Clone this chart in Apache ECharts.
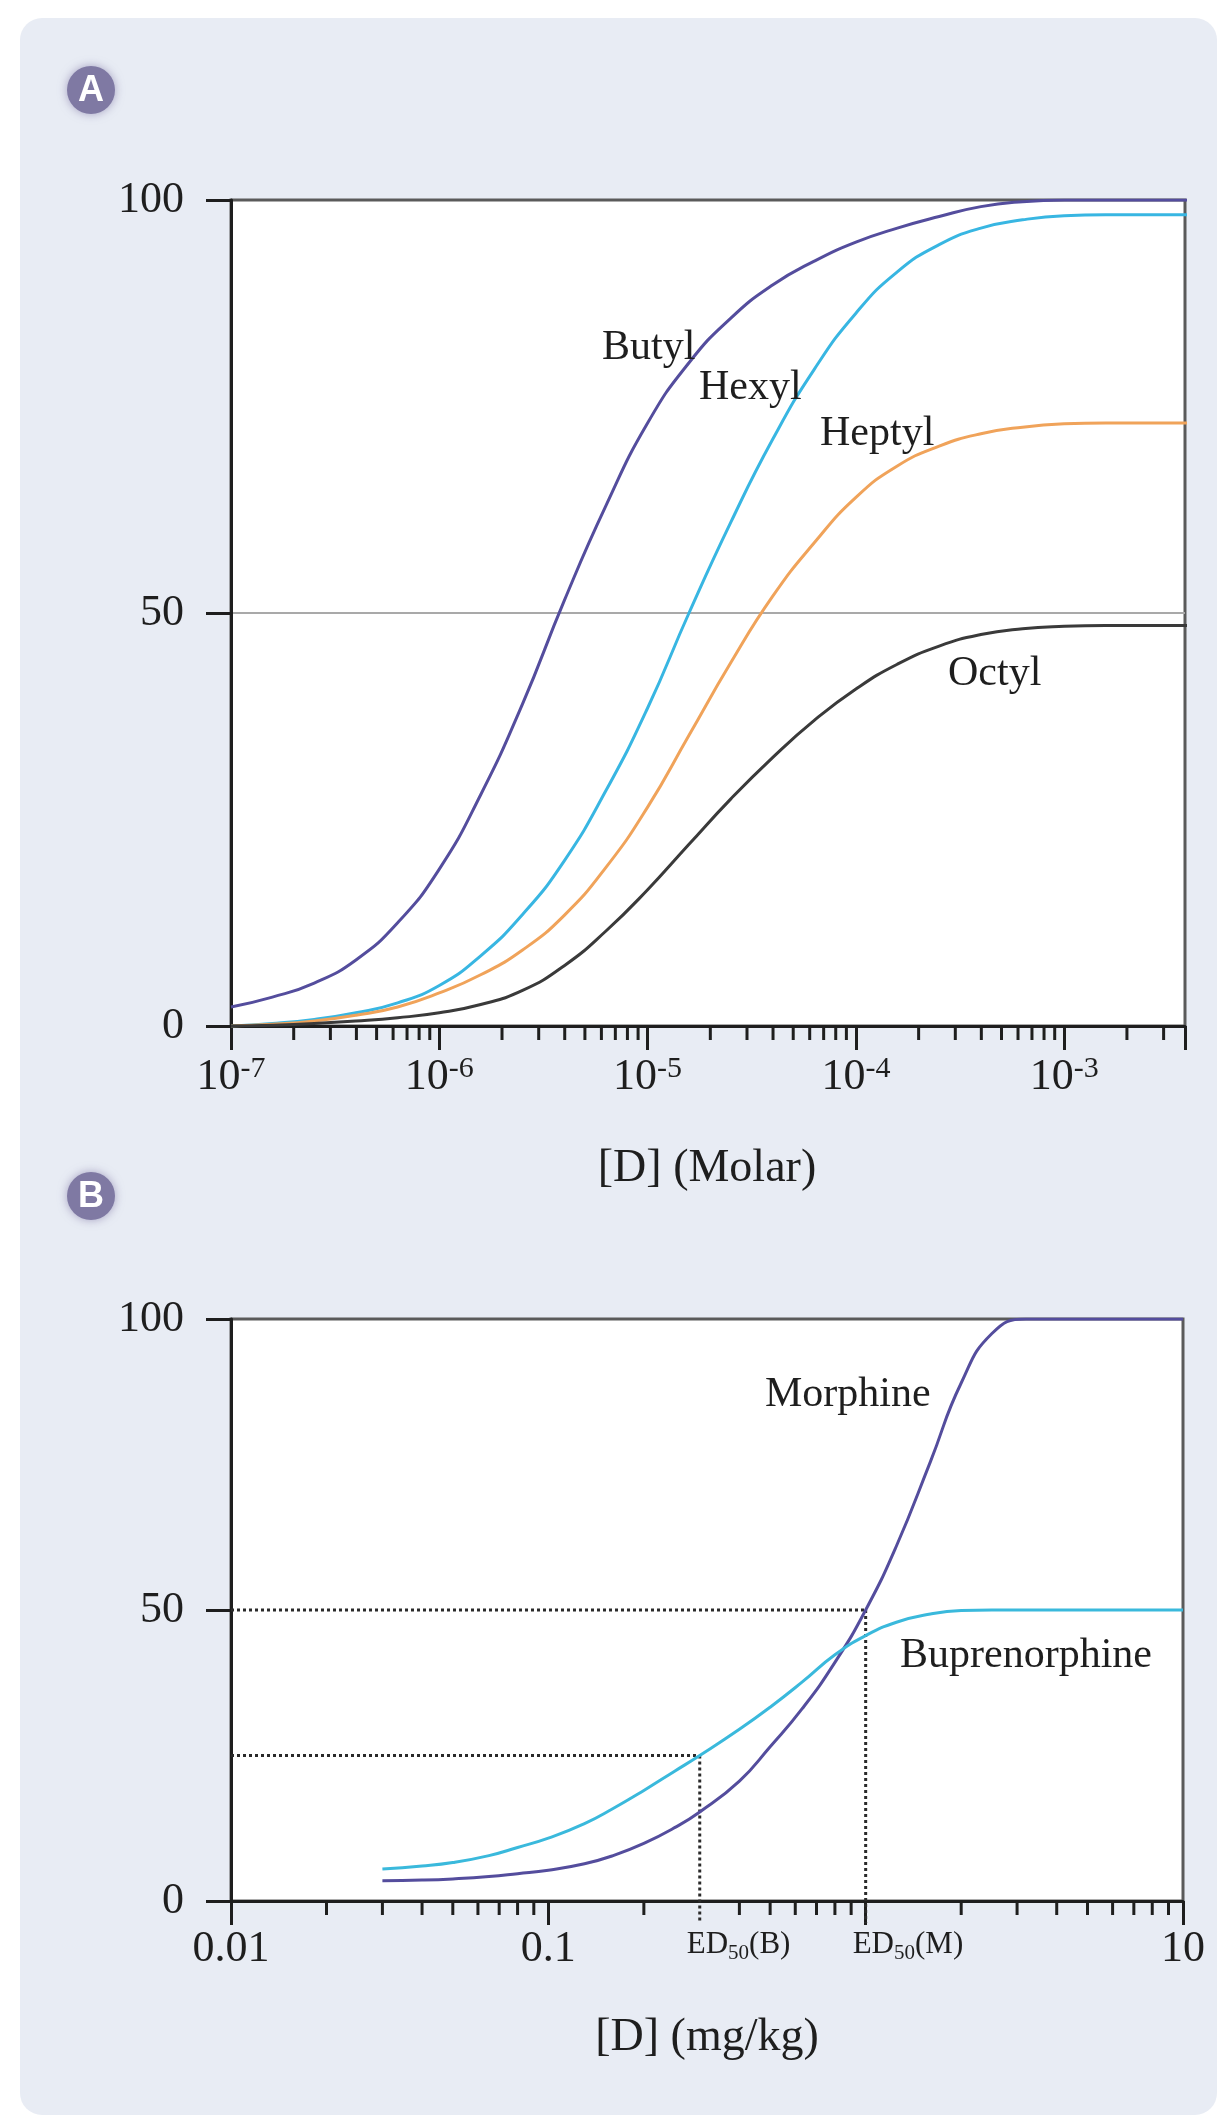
<!DOCTYPE html>
<html>
<head>
    <meta charset="UTF-8">
    <title>Dose-response curves</title>
    <script type="text/javascript" src="https://cdn.jsdelivr.net/npm/echarts@6/dist/echarts.min.js"></script>
</head>
<body style="margin: 0; overflow: hidden; background: #fff;">
<div id="chart" style="width: 1227px; height: 2125px;"></div>
<script type="text/javascript">
    // panel A: concentration (M) and response (%)
    var molar = [1e-7, 1.58e-7, 2.51e-7, 3.98e-7, 6.31e-7, 1e-6, 1.58e-6, 2.51e-6, 3.98e-6, 6.31e-6,
        1e-5, 1.58e-5, 2.51e-5, 3.98e-5, 6.31e-5, 1e-4, 1.58e-4, 2.51e-4, 3.98e-4, 6.31e-4,
        1e-3, 1.58e-3, 2.51e-3, 3.98e-3];
    var butyl = [2.3, 3.5, 5.2, 8, 12.5, 19, 28, 39, 51.5, 63, 73, 80.3, 85.7, 89.7, 92.6, 94.9, 96.6, 98, 99.2, 99.8, 100, 100, 100, 100];
    var hexyl = [0, 0.3, 0.8, 1.6, 2.8, 4.9, 8.5, 13.5, 20, 28.5, 38.5, 50, 61, 71, 79.5, 86.3, 91.3, 94.6, 96.6, 97.6, 98.1, 98.2, 98.2, 98.2];
    var heptyl = [0, 0.2, 0.6, 1.3, 2.3, 4, 6.2, 9.2, 13.4, 19.2, 26.5, 35.2, 44, 52, 58.5, 64, 67.8, 70.2, 71.7, 72.5, 72.9, 73, 73, 73];
    var octyl = [0, 0.1, 0.3, 0.6, 1.0, 1.6, 2.6, 4.3, 7.3, 11.5, 16.5, 22, 27.5, 32.5, 37, 40.8, 43.8, 46, 47.4, 48.1, 48.4, 48.5, 48.5, 48.5];

    // panel B: dose (mg/kg) and response (%)
    var dose = [0.03, 0.04, 0.05, 0.065, 0.08, 0.1, 0.13, 0.16, 0.2, 0.25, 0.3, 0.4, 0.5, 0.63, 0.8, 1, 1.25, 1.6, 2, 2.5, 3.2, 4, 6, 10];
    var morphine = [3.5, 3.6, 3.8, 4.2, 4.7, 5.3, 6.4, 7.8, 9.9, 12.6, 15.3, 20.6, 26.5, 33, 41, 50, 61, 75.5, 89, 97.5, 100, 100, 100, 100];
    var buprenorphine = [5.5, 6.0, 6.6, 7.8, 9.2, 10.8, 13.3, 15.9, 19, 22.3, 25, 29.5, 33.3, 37.6, 42.3, 45.6, 47.9, 49.3, 49.9, 50, 50, 50, 50, 50];
    // ED50 guides: [dose, response, label]
    var ed50 = [[0.3, 25, 'B'], [1, 50, 'M']];

    var molarMin = 1e-7, molarMax = 3.8e-3;
    var doseMin = 0.01, doseMax = 10;

    var serif = '"Liberation Serif", "Times New Roman", serif';
    var ink = '#1e1e1e';
    var purple = '#544d9d', cyan = '#38b6e2', orange = '#f0a35a', grey = '#3a3a3a';

    function zip(xs, ys) {
        return xs.map(function (x, i) { return [x, ys[i]]; });
    }

    // 2..9 x 10^n minor ticks inside an axis range
    function minorTicks(lo, hi, skip) {
        var out = [];
        for (var e = Math.floor(Math.log10(lo)); e < Math.log10(hi); e++) {
            for (var m = 2; m <= 9; m++) {
                var v = m * Math.pow(10, e);
                if (v > lo && v < hi && skip.indexOf(+v.toPrecision(6)) < 0) out.push([v, 0]);
            }
        }
        return out;
    }

    function tickItem(params, api) {
        var p = api.coord([api.value(0), 0]);
        return {
            type: 'line',
            shape: {x1: p[0], y1: p[1], x2: p[0], y2: p[1] + 14},
            style: {stroke: ink, lineWidth: 3}
        };
    }

    function yAxis(gridIndex) {
        return {
            type: 'value', gridIndex: gridIndex, min: 0, max: 100, interval: 50,
            axisLine: {show: true, lineStyle: {color: ink, width: 3}},
            axisTick: {show: true, length: 25, lineStyle: {color: ink, width: 3}},
            axisLabel: {margin: 47, fontFamily: serif, fontSize: 44, color: ink},
            splitLine: {
                show: gridIndex === 0,
                lineStyle: {color: ['rgba(0,0,0,0)', '#a9a9a9', 'rgba(0,0,0,0)'], width: 2}
            }
        };
    }

    function curve(name, xs, ys, color, axis) {
        return {
            name: name, type: 'line', xAxisIndex: axis, yAxisIndex: axis,
            data: zip(xs, ys), smooth: 0.5, showSymbol: false, silent: true, z: 5,
            lineStyle: {color: color, width: 3}
        };
    }

    var chart = echarts.init(document.getElementById('chart'));

    var labelStyle = function (text, x, y) {
        return {
            type: 'text', x: x, y: y, z: 20,
            style: {text: text, font: '42px ' + serif, fill: ink, align: 'left', verticalAlign: 'middle'}
        };
    };

    var badge = function (letter, cx, cy) {
        return {
            type: 'group', z: 10,
            children: [
                {type: 'circle', shape: {cx: cx, cy: cy, r: 24},
                    style: {fill: '#7f79a3', shadowBlur: 10, shadowColor: 'rgba(120,110,160,0.6)'}},
                {type: 'text', x: cx, y: cy + 1,
                    style: {text: letter, font: 'bold 36px "Liberation Sans", Arial, sans-serif', fill: '#fff',
                        align: 'center', verticalAlign: 'middle'}}
            ]
        };
    };

    var option = {
        backgroundColor: '#ffffff',
        animation: false,
        graphic: [
            {type: 'rect', z: -10, shape: {x: 20, y: 18, width: 1197, height: 2097, r: 22},
                style: {fill: '#e8ecf4'}},
            badge('A', 91, 90),
            badge('B', 91, 1196),
            labelStyle('Butyl', 602, 348),
            labelStyle('Hexyl', 699, 388),
            labelStyle('Heptyl', 820, 434),
            labelStyle('Octyl', 948, 674),
            labelStyle('Morphine', 765, 1395),
            labelStyle('Buprenorphine', 900, 1656),
            {type: 'text', x: 707, y: 1169, z: 20,
                style: {text: '[D] (Molar)', font: '46px ' + serif, fill: ink, align: 'center', verticalAlign: 'middle'}},
            {type: 'text', x: 707, y: 2038, z: 20,
                style: {text: '[D] (mg/kg)', font: '46px ' + serif, fill: ink, align: 'center', verticalAlign: 'middle'}}
        ],
        grid: [
            {left: 231, top: 200, width: 954, height: 826, show: true, backgroundColor: '#ffffff',
                borderColor: '#5a5a5a', borderWidth: 3},
            {left: 231, top: 1319, width: 952, height: 582, show: true, backgroundColor: '#ffffff',
                borderColor: '#5a5a5a', borderWidth: 3}
        ],
        xAxis: [
            {
                type: 'log', logBase: 10, gridIndex: 0, min: molarMin, max: molarMax,
                axisLine: {show: true, lineStyle: {color: ink, width: 3}},
                axisTick: {show: true, length: 24, lineStyle: {color: ink, width: 3}},
                splitLine: {show: false},
                axisLabel: {
                    margin: 28,
                    formatter: function (v) {
                        var l = Math.log10(v), e = Math.round(l);
                        if (Math.abs(l - e) > 1e-6) return '';
                        return '{b|10}{s|' + e + '}';
                    },
                    rich: {
                        b: {fontFamily: serif, fontSize: 44, color: ink, lineHeight: 46},
                        s: {fontFamily: serif, fontSize: 30, color: ink, verticalAlign: 'top'}
                    }
                }
            },
            {
                type: 'log', logBase: 10, gridIndex: 1, min: doseMin, max: doseMax,
                axisLine: {show: true, lineStyle: {color: ink, width: 3}},
                axisTick: {show: true, length: 24, lineStyle: {color: ink, width: 3}},
                splitLine: {show: false},
                axisLabel: {
                    margin: 25, fontFamily: serif, fontSize: 44, color: ink, lineHeight: 46,
                    formatter: function (v) {
                        var l = Math.log10(v), e = Math.round(l);
                        if (Math.abs(l - e) > 1e-6 || e === 0) return '';
                        return e < 0 ? v.toFixed(-e) : String(Math.round(v));
                    }
                }
            }
        ],
        yAxis: [yAxis(0), yAxis(1)],
        series: [
            curve('Butyl', molar, butyl, purple, 0),
            curve('Hexyl', molar, hexyl, cyan, 0),
            curve('Heptyl', molar, heptyl, orange, 0),
            curve('Octyl', molar, octyl, grey, 0),
            curve('Morphine', dose, morphine, purple, 1),
            curve('Buprenorphine', dose, buprenorphine, '#3ab9dc', 1),
            {
                type: 'custom', xAxisIndex: 0, yAxisIndex: 0, silent: true, z: 3,
                data: minorTicks(molarMin, molarMax, []), renderItem: tickItem
            },
            {
                type: 'custom', xAxisIndex: 1, yAxisIndex: 1, silent: true, z: 3,
                data: minorTicks(doseMin, doseMax, [0.3]), renderItem: tickItem
            },
            {
                // ED50 dotted guides
                type: 'custom', xAxisIndex: 1, yAxisIndex: 1, silent: true, z: 2,
                data: ed50,
                renderItem: function (params, api) {
                    var x = api.value(0), y = api.value(1);
                    var p = api.coord([x, y]);
                    var p0 = api.coord([doseMin, y]);
                    var pb = api.coord([x, 0]);
                    var st = {stroke: '#2a2a2a', lineWidth: 3, lineDash: [3, 3]};
                    return {
                        type: 'group',
                        children: [
                            {type: 'line', shape: {x1: p0[0], y1: p0[1], x2: p[0], y2: p[1]}, style: st},
                            {type: 'line', shape: {x1: p[0], y1: p[1], x2: pb[0], y2: pb[1] + 22}, style: st},
                            {type: 'text', x: pb[0] - 13, y: pb[1] + 44,
                                style: {
                                    text: '{e|ED}{sub|50}{e|(' + api.value(2) + ')}',
                                    align: 'left', verticalAlign: 'middle',
                                    rich: {
                                        e: {fontFamily: serif, fontSize: 31, fill: ink, lineHeight: 38},
                                        sub: {fontFamily: serif, fontSize: 21, fill: ink, verticalAlign: 'bottom'}
                                    }
                                }}
                        ]
                    };
                }
            }
        ]
    };
    chart.setOption(option);
</script>
</body>
</html>
